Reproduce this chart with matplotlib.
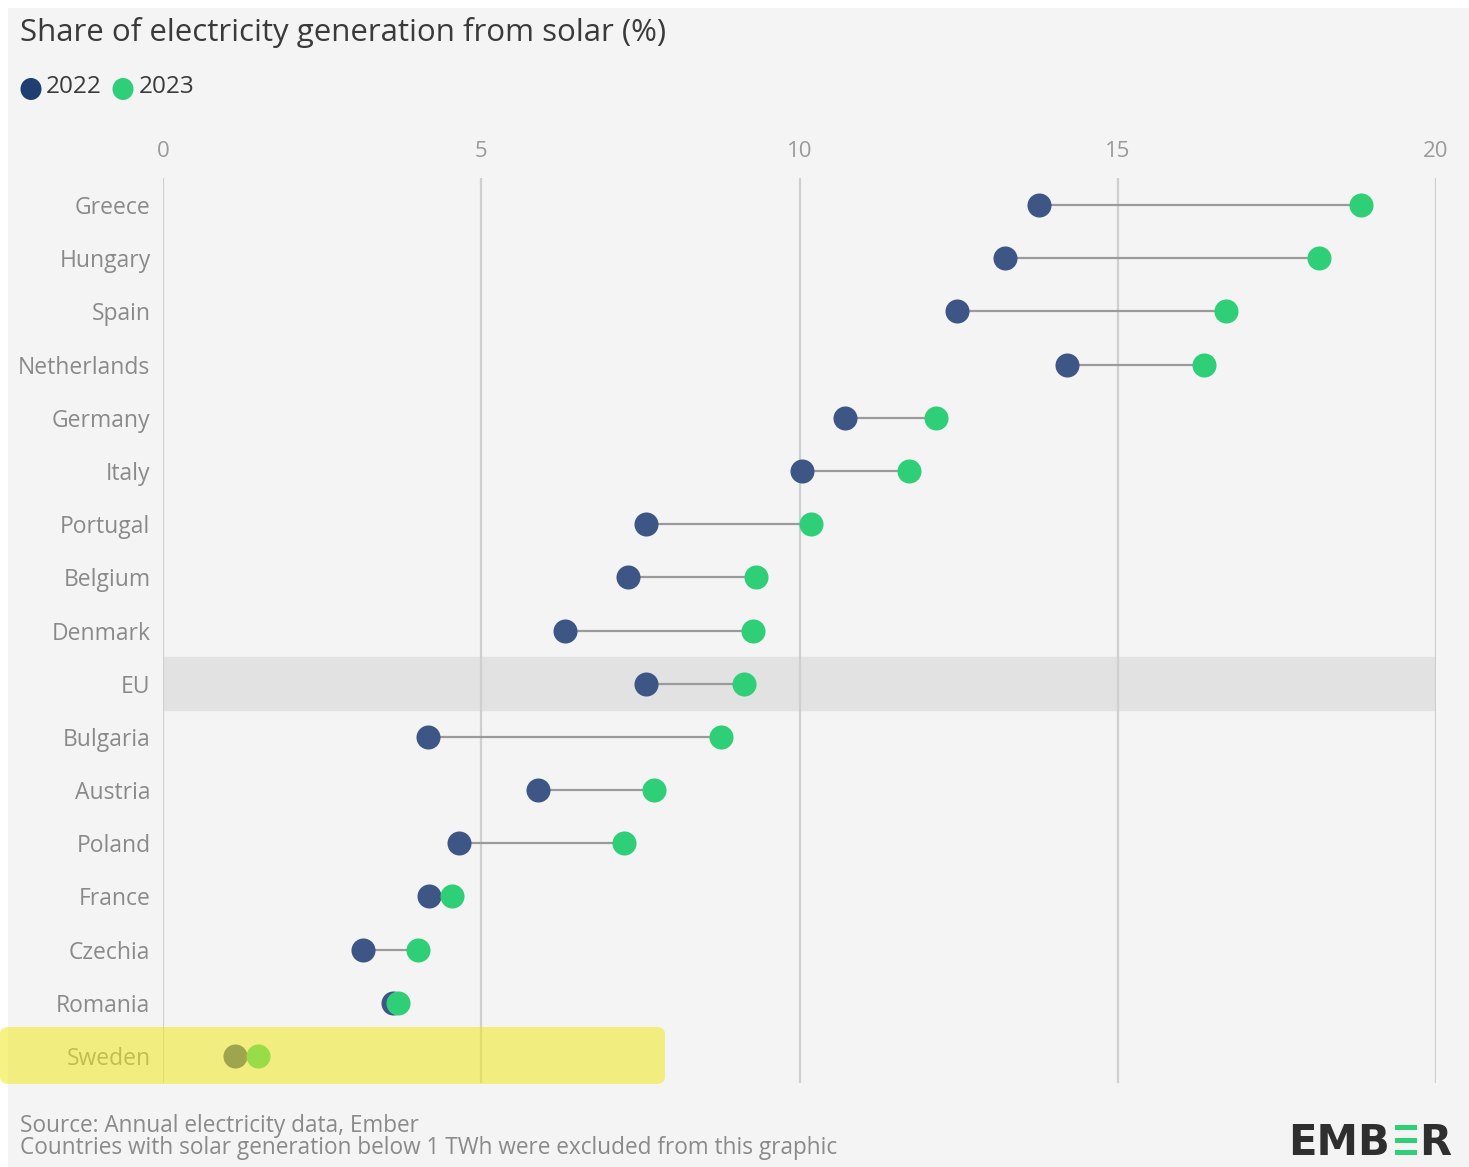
import matplotlib.pyplot as plt
from matplotlib.patches import FancyBboxPatch, Rectangle, Ellipse

plt.rcParams['font.family'] = ['Open Sans', 'DejaVu Sans']

countries = ['Greece', 'Hungary', 'Spain', 'Netherlands', 'Germany', 'Italy',
             'Portugal', 'Belgium', 'Denmark', 'EU', 'Bulgaria', 'Austria',
             'Poland', 'France', 'Czechia', 'Romania', 'Sweden']
share_2022 = [13.76, 13.23, 12.47, 14.20, 10.71, 10.04, 7.59, 7.31, 6.32, 7.59,
              4.16, 5.89, 4.65, 4.18, 3.14, 3.61, 1.13]
share_2023 = [18.82, 18.16, 16.70, 16.36, 12.14, 11.72, 10.18, 9.32, 9.27, 9.13,
              8.77, 7.71, 7.24, 4.54, 4.01, 3.69, 1.49]
x_ticks = [0, 5, 10, 15, 20]

c22 = '#3d5686'
c23 = '#2fcf78'
bg = '#f4f4f4'
W, H = 1469, 1167

fig = plt.figure(figsize=(W / 100, H / 100), dpi=100)
fig.patch.set_facecolor('white')
fig.patches.append(Rectangle((8 / W, 0), 1 - 8 / W, 1 - 8 / H,
                             transform=fig.transFigure, facecolor=bg,
                             edgecolor='none', zorder=-10))

ax = fig.add_axes([163 / W, 1 - 1082.6 / H, (1436 - 163) / W, (1082.6 - 178.4) / H])
ax.set_facecolor('none')

y = list(range(len(countries)))
ax.set_xlim(0, 20)
ax.set_ylim(len(countries) - 0.5, -0.5)

# EU band
eu = countries.index('EU')
ax.axhspan(eu - 0.5, eu + 0.5, color='#e2e2e2', zorder=0)

for t in x_ticks:
    ax.axvline(t, color='#cfcfcf', lw=1.6, zorder=1)

for i in y:
    ax.plot([share_2022[i], share_2023[i]], [i, i], color='#9a9a9a', lw=1.6, zorder=2)
ax.scatter(share_2022, y, s=300, color=c22, zorder=3, linewidths=0)
ax.scatter(share_2023, y, s=300, color=c23, zorder=4, linewidths=0)

ax.xaxis.tick_top()
ax.set_xticks(x_ticks)
ax.set_xticklabels([str(t) for t in x_ticks])
ax.set_yticks(y)
ax.set_yticklabels(countries)
ax.tick_params(axis='x', length=0, pad=12, labelsize=16, labelcolor='#9a9a9a')
ax.tick_params(axis='y', length=0, pad=9, labelsize=16.5, labelcolor='#8a8a8a')
for s in ax.spines.values():
    s.set_visible(False)

# yellow highlight over Sweden row
hl = FancyBboxPatch((0, 1 - 1084 / H), 665 / W, 57 / H,
                    boxstyle='round,pad=0,rounding_size=0.006',
                    transform=fig.transFigure, facecolor='#f0e820', alpha=0.55,
                    edgecolor='none', zorder=20)
fig.patches.append(hl)

fig.text(20 / W, 1 - 33 / H, 'Share of electricity generation from solar (%)',
         fontsize=22.5, color='#3a3a3a', va='center', ha='left')

# legend
for cx, col in [(31, '#1f3f70'), (123, c23)]:
    fig.patches.append(Ellipse((cx / W, 1 - 89 / H), 21 / W, 22 / H,
                               transform=fig.transFigure, facecolor=col, edgecolor='none'))
fig.text(46 / W, 1 - 87 / H, '2022', fontsize=17.5, color='#3a3a3a', va='center', ha='left')
fig.text(139 / W, 1 - 87 / H, '2023', fontsize=17.5, color='#3a3a3a', va='center', ha='left')

fig.text(20 / W, 1 - 1126 / H, 'Source: Annual electricity data, Ember',
         fontsize=16.3, color='#8a8a8a', va='center', ha='left')
fig.text(20 / W, 1 - 1148 / H,
         'Countries with solar generation below 1 TWh were excluded from this graphic',
         fontsize=16.3, color='#8a8a8a', va='center', ha='left')

# EMBER logo
fig.text(1288 / W, 1 - 1155 / H, 'EMB', fontsize=30, fontweight='bold',
         color='#2f2f2f', va='baseline', ha='left', family='DejaVu Sans')
fig.text(1419 / W, 1 - 1155 / H, 'R', fontsize=30, fontweight='bold',
         color='#2f2f2f', va='baseline', ha='left', family='DejaVu Sans')
for yy in [1127.5, 1140, 1152.5]:
    fig.patches.append(Rectangle((1395 / W, 1 - (yy + 2.5) / H), 22 / W, 5 / H,
                                 transform=fig.transFigure, facecolor='#2fcf78',
                                 edgecolor='none'))

fig.savefig('out.png', dpi=100, facecolor=fig.get_facecolor())
